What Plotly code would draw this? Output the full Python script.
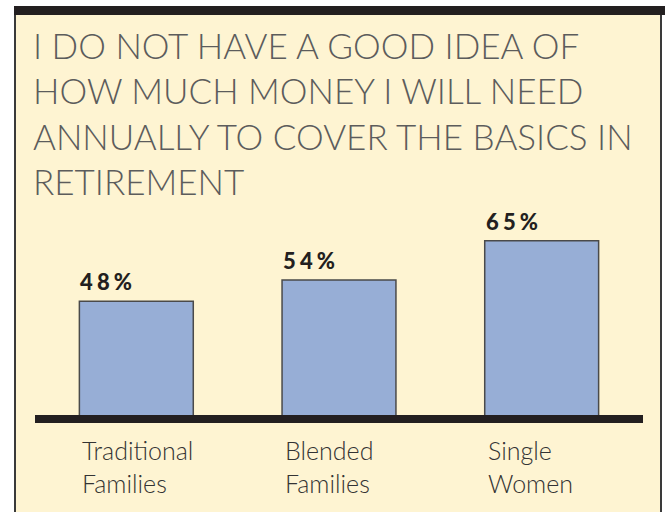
import plotly.graph_objects as go

# Survey results
categories = ["Traditional Families", "Blended Families", "Single Women"]
category_labels = ["Traditional<br>Families", "Blended<br>Families", "Single<br>Women"]
shares = [48, 54, 65]
title_lines = [
    "I DO NOT HAVE A GOOD IDEA OF",
    "HOW MUCH MONEY I WILL NEED",
    "ANNUALLY TO COVER THE BASICS IN",
    "RETIREMENT",
]

# Figure geometry (pixels)
W, H = 667, 512
L, R, T, B = 35, 24, 215, 97
PW, PH = W - L - R, H - T - B
Y_RANGE = [16.1, 72.2]
BARGAP = 0.438

CREAM = "#FEF4D2"
INK = "#231F20"
BAR = "#97AED6"


def px_x(px):
    return (px - L) / PW


def px_y(py):
    return (H - B - py) / PH


fig = go.Figure(
    go.Bar(
        x=categories,
        y=shares,
        marker=dict(color=BAR, line=dict(color="#4A4A4A", width=1.5)),
        hoverinfo="skip",
    )
)

# Panel: cream card with thin side rules and a heavy top band
fig.add_shape(type="rect", xref="paper", yref="paper", layer="below",
              x0=px_x(15), x1=px_x(661), y0=px_y(530), y1=px_y(15),
              fillcolor=CREAM, line=dict(width=0))
for xp in (15, 661):
    fig.add_shape(type="line", xref="paper", yref="paper", layer="above",
                  x0=px_x(xp), x1=px_x(xp), y0=px_y(530), y1=px_y(12),
                  line=dict(color="#3A3A3A", width=2))
fig.add_shape(type="rect", xref="paper", yref="paper", layer="above",
              x0=px_x(14), x1=px_x(665), y0=px_y(15), y1=px_y(6),
              fillcolor=INK, line=dict(width=0))

# Title, one line at a time for tight leading
for i, line in enumerate(title_lines):
    fig.add_annotation(
        text=line, xref="paper", yref="paper",
        x=px_x(31), y=px_y(21.5 + i * 45.5), xanchor="left", yanchor="top",
        showarrow=False, align="left",
        font=dict(family="Lato", size=35, weight=300, color="#5C5C5C"),
    )

# Bar half-width in pixels, used to left-align labels with each bar
half_bar = PW / len(categories) * (1 - BARGAP) / 2

# Value labels above bars, left aligned to the bar edge
for cat, v in zip(categories, shares):
    fig.add_annotation(
        text="\u2009\u200a".join(f"{v}%"), x=cat, y=v, xref="x", yref="y",
        xanchor="left", yanchor="bottom", xshift=-half_bar - 1, yshift=4,
        showarrow=False,
        font=dict(family="Lato", size=22, weight=900, color=INK),
    )

# Category labels under the baseline
for cat, lab in zip(categories, category_labels):
    fig.add_annotation(
        text=lab, x=cat, xref="x", yref="paper", y=px_y(433),
        xanchor="left", yanchor="top", xshift=-half_bar + 1,
        showarrow=False, align="left",
        font=dict(family="Lato", size=25, weight=300, color="#333333"),
    )

fig.update_layout(
    width=W, height=H,
    margin=dict(l=L, r=R, t=T, b=B, pad=0),
    paper_bgcolor="white",
    plot_bgcolor="rgba(0,0,0,0)",
    bargap=BARGAP,
    showlegend=False,
    xaxis=dict(showticklabels=False, ticks="", showgrid=False, zeroline=False,
               showline=True, linewidth=8, linecolor=INK, fixedrange=True),
    yaxis=dict(range=Y_RANGE, visible=False, showgrid=False, zeroline=False,
               fixedrange=True),
)

fig.write_html("out.html", config={"displayModeBar": False})
